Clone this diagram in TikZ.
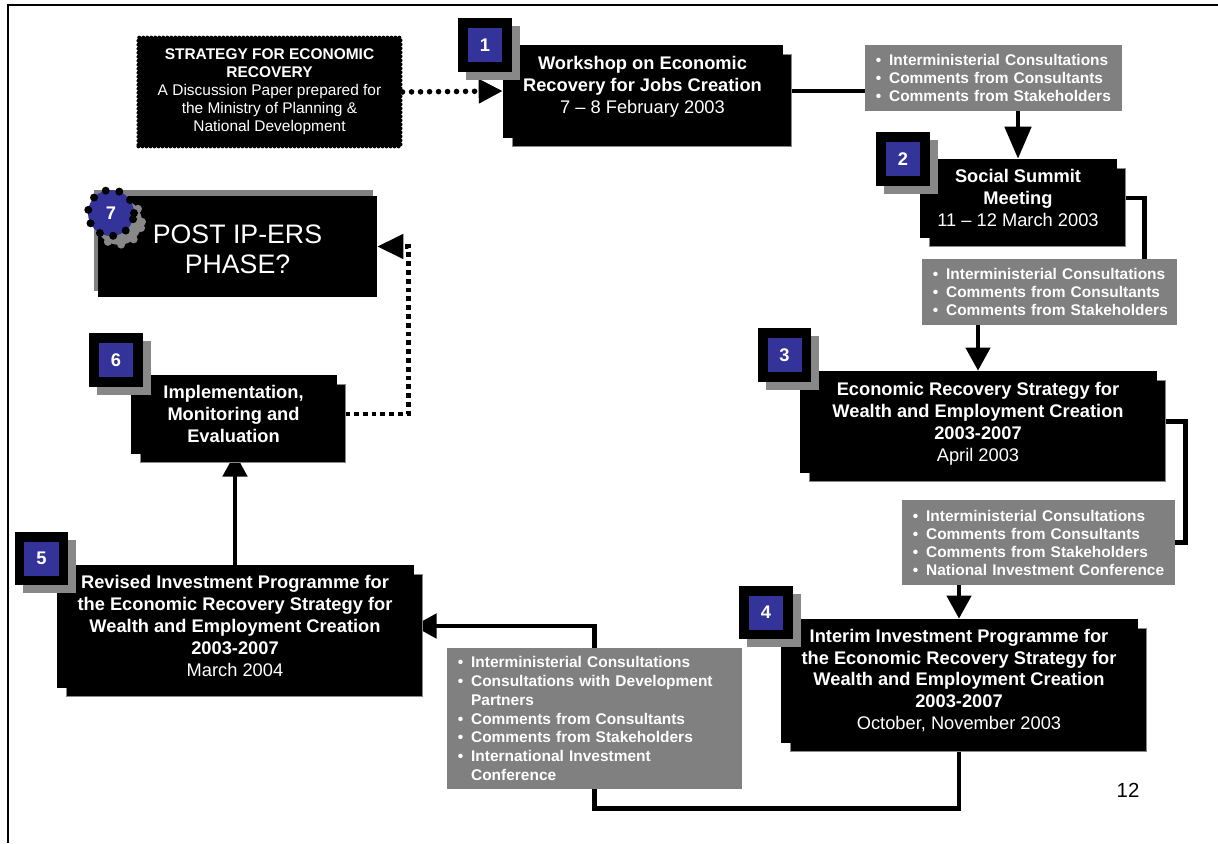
\documentclass[tikz,border=0pt]{standalone}
\usepackage{fontspec}
\setmainfont{Liberation Sans}
\usepackage{tikz}
\usetikzlibrary{shapes,arrows.meta,shadows,backgrounds}
\definecolor{badgeblue}{HTML}{333399}
\definecolor{notegray}{HTML}{808080}
\definecolor{shadegray}{HTML}{888888}
\newcommand{\stagefont}{\fontsize{13pt}{15.6pt}\selectfont}
\newcommand{\notefont}{\fontsize{11pt}{12.8pt}\selectfont}
\newcommand{\bitem}[1]{\makebox[0.85em][l]{\textbullet}\mbox{#1}}
\tikzstyle{stage} = [rectangle, fill=black, draw=black, text=white, align=center, inner sep=0pt, font=\stagefont\bfseries, copy shadow={shadow xshift=0.225cm, shadow yshift=-0.225cm, fill=black, draw=shadegray, line width=0.4pt}]
\tikzstyle{paper} = [rectangle, fill=black, draw=black, text=white, align=center, font=\notefont, line width=0.1cm, dash pattern=on 0pt off 0.1cm, line cap=round, minimum width=6.55cm, minimum height=2.72cm]
\tikzstyle{finale} = [rectangle, fill=black, text=white, align=center, font=\fontsize{19pt}{21.3pt}\selectfont, minimum width=6.975cm, minimum height=2.525cm, text height=1.5cm, text depth=0.14cm, general shadow={fill=notegray, draw=none, shadow xshift=-0.1cm, shadow yshift=0.15cm}]
\tikzstyle{note} = [rectangle, fill=notegray, text=white, align=left, font=\notefont\bfseries, inner xsep=0.275cm]
\tikzstyle{badge} = [rectangle, fill=badgeblue, draw=black, line width=0.24cm, minimum size=1.09cm, inner sep=0pt, text=white, font=\fontsize{13pt}{13pt}\selectfont\bfseries, general shadow={fill=shadegray, draw=shadegray, line width=0.24cm, shadow xshift=0.2cm, shadow yshift=-0.2cm}]
\tikzstyle{roundbadge} = [circle, fill=badgeblue, draw=black, line width=0.2cm, dash pattern=on 0pt off 0.345cm, line cap=round, minimum size=1.15cm, inner sep=0pt, text=white, font=\fontsize{13pt}{13pt}\selectfont\bfseries, general shadow={fill=shadegray, draw=shadegray, line width=0.2cm, dash pattern=on 0pt off 0.345cm, line cap=round, shadow xshift=0.2cm, shadow yshift=-0.22cm}]
\tikzstyle{link} = [line width=0.12cm]
\tikzstyle{arrow} = [link, -{Triangle[length=0.58cm, width=0.6cm]}]
\tikzstyle{dotarrow} = [line width=0.14cm, dash pattern=on 0pt off 0.225cm, line cap=round, -{Triangle[length=0.6cm, width=0.58cm]}]
\tikzstyle{squarearrow} = [line width=0.12cm, dash pattern=on 0.12cm off 0.1cm, -{Triangle[length=0.65cm, width=0.6cm]}]

\begin{document}
\begin{tikzpicture}[x=0.025cm, y=-0.025cm]
        \useasboundingbox (0,0) rectangle (1218,843);
        \draw [line width=0.07cm] (8,843) -- (8,5) -- (1218,5);
        % stages of the process
        \node (paper) [paper] at (269.5,92) {\textbf{STRATEGY FOR ECONOMIC}\\\textbf{RECOVERY}\\A Discussion Paper prepared for\\the Ministry of Planning \&\\National Development};
        \node (ws) [stage, minimum width=6.975cm, minimum height=2.3cm, text depth=0.3cm] at (642.5,91) {Workshop on Economic\\Recovery for Jobs Creation\\\textmd{7 – 8 February 2003}};
        \node (n1) [badge] at (485,45) {1};
        \node (summit) [stage, minimum width=4.9cm, minimum height=1.95cm] at (1018,198) {Social Summit\\Meeting\\\textmd{11 – 12 March 2003}};
        \node (n2) [badge] at (903,159) {2};
        \node (ers) [stage, minimum width=8.9cm, minimum height=2.525cm, text depth=0pt] at (978,421.5) {Economic Recovery Strategy for\\Wealth and Employment Creation\\2003-2007\\\textmd{April 2003}};
        \node (n3) [badge] at (784.5,355) {3};
        \node (iip) [stage, minimum width=8.9cm, minimum height=3.075cm] at (959,680.5) {Interim Investment Programme for\\the Economic Recovery Strategy for\\Wealth and Employment Creation\\2003-2007\\\textmd{October, November 2003}};
        \node (n4) [badge] at (766,612.5) {4};
        \node (rip) [stage, minimum width=8.9cm, minimum height=3.05cm] at (235,626) {Revised Investment Programme for\\the Economic Recovery Strategy for\\Wealth and Employment Creation\\2003-2007\\\textmd{March 2004}};
        \node (n5) [badge] at (41.5,558.5) {5};
        \node (ime) [stage, minimum width=5.125cm, minimum height=1.95cm] at (233.5,414) {Implementation,\\Monitoring and\\Evaluation};
        \node (n6) [badge] at (116,360) {6};
        \node (post) [finale] at (237.5,246.5) {POST IP-ERS\\PHASE?};
        \node (n7) [roundbadge] at (111,213) {7};
        % consultation notes
        \node (noteA) [note, text width=5.875cm, minimum height=1.65cm] at (993.5,78) {\bitem{Interministerial Consultations}\\\bitem{Comments from Consultants}\\\bitem{Comments from Stakeholders}};
        \node (noteB) [note, text width=5.825cm, minimum height=1.65cm] at (1049.5,292) {\bitem{Interministerial Consultations}\\\bitem{Comments from Consultants}\\\bitem{Comments from Stakeholders}};
        \node (noteC) [note, text width=6.275cm, minimum height=2.125cm] at (1038.5,542.5) {\bitem{Interministerial Consultations}\\\bitem{Comments from Consultants}\\\bitem{Comments from Stakeholders}\\\bitem{National Investment Conference}};
        \node (noteD) [note, text width=6.825cm, minimum height=3.525cm, font=\fontsize{11pt}{13.3pt}\selectfont\bfseries] at (594.5,718.5) {\bitem{Interministerial Consultations}\\\bitem{Consultations with Development}\\\hspace*{0.85em}Partners\\\bitem{Comments from Consultants}\\\bitem{Comments from Stakeholders}\\\bitem{International Investment}\\\hspace*{0.85em}Conference};
        \node (page) [font=\fontsize{14.5pt}{14.5pt}\selectfont] at (1128,790) {12};
        \begin{scope}[on background layer]
        \draw [dotarrow] (paper.east) -- (ws.west);
        \draw [link] (ws.east) -- (ws.east -| noteA.west);
        \draw [arrow, -{Triangle[length=0.8cm, width=0.65cm]}] (noteA.south -| summit.north) -- (summit.north);
        \draw [link] (summit.east) -| ([shift={(-33,0)}]noteB.north east);
        \draw [arrow] (noteB.south -| ers.north) -- (ers.north);
        \draw [link] (ers.east) -- ++(29,0) |- (noteC.east);
        \draw [arrow] (noteC.south -| iip.north) -- (iip.north);
        \draw [arrow] (iip.south) -- ++(0,66) -| (noteD.center) |- (rip.east);
        \draw [arrow] (rip.north) -- (rip.north |- ime.south);
        \draw [squarearrow] (ime.east) -| ([shift={(31,0)}]post.east) -- (post.east);
        \end{scope}
    \end{tikzpicture}
\end{document}
